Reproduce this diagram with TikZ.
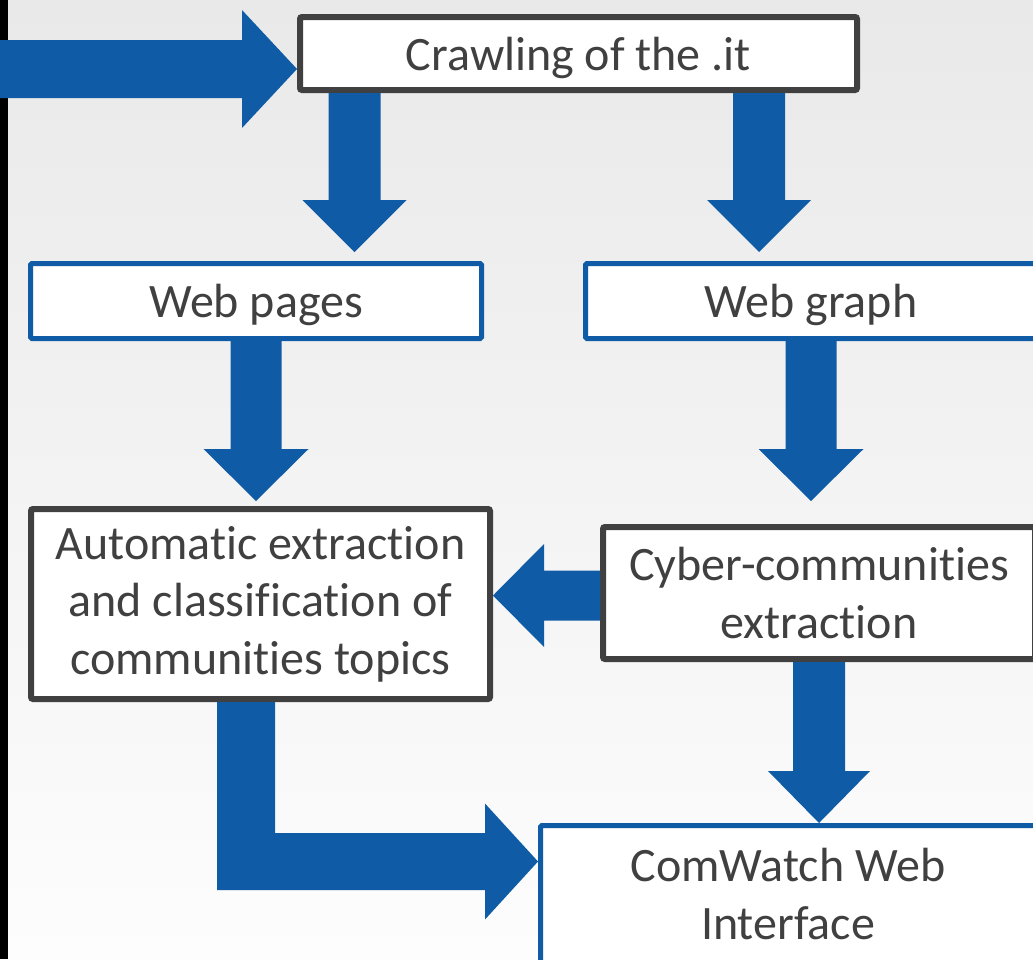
\documentclass[tikz,border=0pt]{standalone}
\usepackage{fontspec}
\setmainfont{Carlito}[Ligatures=NoCommon]
\usetikzlibrary{calc}

% keeps "t" and "i" as separate glyphs
\newcommand\nolig{\kern0pt }

\definecolor{flowblue}{RGB}{16,91,166}
\definecolor{boxgrey}{RGB}{64,64,64}
\definecolor{bgtop}{RGB}{233,233,233}
\definecolor{bgbottom}{RGB}{253,253,253}

% Block arrow from #1 to the tip #2: shaft half-width #3, head half-width #4, head length #5
\newcommand\blockarrow[5]{%
  \coordinate (ba-s) at (#1);
  \coordinate (ba-t) at (#2);
  \coordinate (ba-b) at ($(ba-t)!#5!(ba-s)$);
  \fill[flowblue]
    ($(ba-s)!#3!90:(ba-t)$) -- ($(ba-b)!#3!90:(ba-t)$) -- ($(ba-b)!#4!90:(ba-t)$)
    -- (ba-t)
    -- ($(ba-b)!#4!-90:(ba-t)$) -- ($(ba-b)!#3!-90:(ba-t)$) -- ($(ba-s)!#3!-90:(ba-t)$)
    -- cycle;
}

\begin{document}
\begin{tikzpicture}[x=1pt,y=-1pt,
  boxtext/.style={font=\fontsize{48}{57.6}\selectfont, text=boxgrey, align=center,
    inner sep=0pt, fill=white},
  oneline/.style={text depth=0pt},
  darkbox/.style={boxtext, draw=boxgrey, line width=6pt, rounded corners=2pt},
  bluebox/.style={boxtext, draw=flowblue, line width=5pt, rounded corners=1.5pt}]

\useasboundingbox (0,0) rectangle (1033,959);
\clip (0,0) rectangle (1033,959);

% page background and dark left edge
\shade[top color=bgtop, bottom color=bgbottom] (0,0) rectangle (1033,959);
\fill[black] (0,0) rectangle (8,959);

% boxes
\node[darkbox, oneline, minimum width=557pt, minimum height=73pt] (crawl) at (578.5,53.5) {Crawling of the .it};
\node[bluebox, oneline, minimum width=451pt, minimum height=75pt] (pages) at (256,301) {Web pages};
\node[bluebox, oneline, minimum width=451pt, minimum height=75pt] (graph) at (811,301) {Web graph};
\node[darkbox, minimum width=459pt, minimum height=190pt] (auto) at (260.5,604)
  {Automat\nolig ic extract\nolig ion\\and classificat\nolig ion of\\communit\nolig ies topics};
\node[darkbox, minimum width=432pt, minimum height=132pt] (cyber) at (819,593)
  {Cyber-communit\nolig ies\\extract\nolig ion};
\node[bluebox, minimum width=495pt, minimum height=137pt] (comw) at (788,894)
  {ComWatch Web\\Interface};

% helper coordinates for the arrow axes
\coordinate (in0) at (0,69);
\coordinate (xa) at (354.5,0);
\coordinate (xb) at (759,0);
\coordinate (xc) at (256,0);
\coordinate (xd) at (811,0);
\coordinate (yl) at (0,595.5);
\coordinate (lx) at (246,0);
\coordinate (ly) at (0,861.5);

% incoming arrow
\blockarrow{in0}{crawl.west |- in0}{29pt}{59pt}{55pt}

% crawling outputs
\blockarrow{crawl.south -| xa}{$(crawl.south -| xa)+(0,159)$}{26pt}{52pt}{52pt}
\blockarrow{crawl.south -| xb}{$(crawl.south -| xb)+(0,159)$}{26pt}{52pt}{52pt}

% second level
\blockarrow{pages.south -| xc}{$(pages.south -| xc)+(0,160)$}{25.5pt}{52.5pt}{52pt}
\blockarrow{graph.south -| xd}{$(graph.south -| xd)+(0,160)$}{25.5pt}{52.5pt}{52pt}

% communities to topic classification
\blockarrow{cyber.west |- yl}{auto.east |- yl}{25pt}{51.5pt}{51pt}

% communities to web interface
\blockarrow{cyber.south}{comw.north -| cyber.south}{26pt}{51pt}{52pt}

% topics to web interface (elbow arrow)
\coordinate (lsrc) at (auto.south -| lx);
\coordinate (ltip) at (comw.west |- ly);
\coordinate (lin) at ($(lsrc |- ltip)+(29,-28.5)$);
\coordinate (lout) at ($(lsrc |- ltip)+(-29,28.5)$);
\fill[flowblue] ($(lsrc)+(-29,0)$) -- ($(lsrc)+(29,0)$) -- (lin)
  -- ($(ltip)+(-53,-28.5)$) -- ($(ltip)+(-53,-58)$) -- (ltip)
  -- ($(ltip)+(-53,58)$) -- ($(ltip)+(-53,28.5)$) -- (lout) -- cycle;

\end{tikzpicture}
\end{document}
